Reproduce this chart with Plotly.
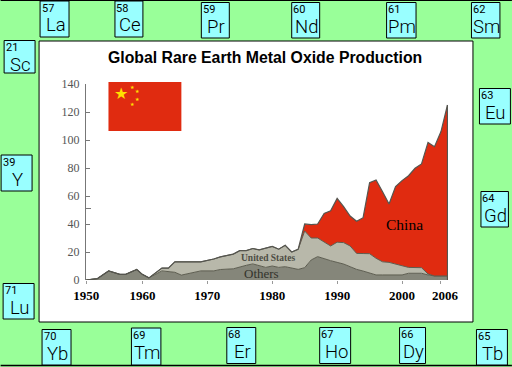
import plotly.graph_objects as go

W, H = 512, 367
# plot-area pixels
L, R, T, B = 85.5, 448.0, 84.0, 280.0

# Data: the source's first decade is drawn compressed, see axis_pos
years = [1950,1952,1954,1956,1957,1959,1960,1961,1963,1964,1965,1966,1969,1971,1972,1974,1975,1976,1977,1978,1979,1980,1981,1982,1983,1984,1985,1986,1987,1988,1989,1990,1991,1992,1993,1994,1995,1996,1997,1998,1999,2000,2001,2002,2003,2004,2005,2006,2007]
others = [0,1,6.5,4,4,7.5,4,1.5,6.5,6,5.5,3.5,6.5,6.5,7.5,8,9.5,10.5,11.5,10,9,10,9,9.5,8.8,7.6,8.8,14.3,16.7,15,13.8,12.6,11.4,9.5,7.6,6.4,5.2,3.6,3.6,3.6,3.6,3.6,4.8,4.8,4.8,3.6,2.9,2.9,2.9]
us_top = [0,1,6.5,4,4,7.5,4,1.5,8.5,8.5,13,13,13,15,16.5,18.5,21,21,22.5,21.5,22.5,24,22,24.8,20,22,35,30,30,27.4,24.3,27,26.7,24.3,19,18.9,18.8,15.5,13,12.6,11.2,10.2,9,8.8,8.8,4.3,2.9,2.9,2.9]
china_top = [0,1,6.5,4,4,7.5,4,1.5,8.5,8.5,13,13,13,15,16.5,18.5,21,21,22.5,21.5,22.5,24,22,24.8,20,22,40,39.5,40,47.6,49.5,58.3,52.4,45.7,42,44.5,69.5,71.4,63,54.3,66.7,71,74.5,79.8,82.9,98.3,95.2,106,125]
y_ticks = [0,20,40,60,80,100,120,140]
x_labels = ["1950","1960","1970","1980","1990","2000","2006"]

elements = [
 ("57","La",39.5,68.5,1,37),("58","Ce",114.5,142.5,1,37),("59","Pr",201,229,2.5,38),
 ("60","Nd",291.5,319.5,2.5,38),("61","Pm",386.5,416,2.5,38),("62","Sm",471.5,500,2.5,38),
 ("21","Sc",3.5,34.5,40.5,73),("39","Y",0.5,31.5,155,191),("71","Lu",2.5,33.5,283.5,319),
 ("63","Eu",479.5,510.5,88.5,124),("64","Gd",481,508.5,191.5,227),("65","Tb",476.5,507.5,329.5,365),
 ("66","Dy",399.5,425.5,327.5,363.5),("67","Ho",319.5,350.5,327.5,363.5),("68","Er",226.5,255.5,327.5,363.5),
 ("69","Tm",131,160.5,328,365),("70","Yb",41.5,70.5,329.5,365),
]

def axis_pos(y):
    return 1951.33 + (y-1950)*0.867 if y < 1960 else y

def px(x): return (x-L)/(R-L)
def py(y): return (B-y)/(B-T)

xs = [axis_pos(y) for y in years]
fig = go.Figure()
fig.add_trace(go.Scatter(x=xs, y=others, mode="lines", line=dict(color="#5d5d50", width=1), fill="tozeroy", fillcolor="#85867a", showlegend=False))
fig.add_trace(go.Scatter(x=xs, y=us_top, mode="lines", line=dict(color="#5d5d50", width=1), fill="tonexty", fillcolor="#b8b8aa", showlegend=False))
fig.add_trace(go.Scatter(x=xs, y=china_top, mode="lines", line=dict(color="#55554f", width=1.2), fill="tonexty", fillcolor="#e02b10", showlegend=False))
fig.add_trace(go.Scatter(x=[xs[-1], xs[-1]], y=[0, china_top[-1]], mode="lines", line=dict(color="#55554f", width=1.2), showlegend=False))

shapes = [
 dict(type="rect", xref="paper", yref="paper", x0=px(38.5), x1=px(473), y0=py(322), y1=py(41), fillcolor="white", line=dict(color="black", width=1), layer="below"),
 dict(type="line", xref="paper", yref="paper", x0=px(0), x1=px(512), y0=py(0.5), y1=py(0.5), line=dict(color="black", width=1)),
 dict(type="line", xref="paper", yref="paper", x0=px(0), x1=px(512), y0=py(365.5), y1=py(365.5), line=dict(color="black", width=1.5)),
 dict(type="rect", xref="paper", yref="paper", x0=px(108), x1=px(181), y0=py(131), y1=py(82), fillcolor="#e02b10", line=dict(width=0), layer="below"),
]
annos = []
def text(x, y, t, size, color="black", family="Liberation Sans", anchor="center", yanchor="middle", weight=None):
    f = dict(size=size, color=color, family=family)
    if weight: f["weight"] = weight
    annos.append(dict(xref="paper", yref="paper", x=px(x), y=py(y), text=t, showarrow=False, xanchor=anchor, yanchor=yanchor,
                      font=f, borderpad=0, borderwidth=0))

for num, sym, x0, x1, y0, y1 in elements:
    shapes.append(dict(type="rect", xref="paper", yref="paper", x0=px(x0), x1=px(x1), y0=py(y1), y1=py(y0), fillcolor="#99ffff", line=dict(color="black", width=1), layer="above"))
    text(x0+1.5, y0+7, num, 11, family="Roboto", anchor="left")
    text((x0+x1)/2+1, y0+24.5, sym, 18.5, family="Roboto", weight=300)

text(265, 58, "<b>Global Rare Earth Metal Oxide Production</b>", 15.8)
text(120.5, 94, "★", 16, "#ffe000")
text(132, 86.5, "★", 5, "#ffe000")
text(137.5, 91.5, "★", 5, "#ffe000")
text(137.5, 99, "★", 5, "#ffe000")
text(132, 104, "★", 5, "#ffe000")
text(404, 224, "China", 15.5, "black", "Liberation Serif")
text(268, 258, "<b>United States</b>", 9.5, "#4d4d44", "Liberation Serif")
text(261, 273, "Others", 13, "#33332c", "Liberation Serif")

fig.update_layout(
    width=W, height=H, autosize=False,
    margin=dict(l=L, r=W-R, t=T, b=H-B, pad=0),
    paper_bgcolor="#99ff99", plot_bgcolor="rgba(0,0,0,0)",
    shapes=shapes, annotations=annos, showlegend=False,
    xaxis=dict(range=[1951.31, 2007.08], tickmode="array",
               tickvals=[1951.33,1960,1970,1980,1990,2000,2006.6], ticktext=x_labels,
               ticks="", ticklabelstandoff=6, showgrid=False, zeroline=False, showline=False,
               tickfont=dict(family="Liberation Serif", size=13, color="black", weight="bold"),
               minor=dict(tickmode="array", tickvals=[1951.33,1960,1970,1980,1990,2000,2006], ticks="outside", ticklen=3, tickcolor="#999999", showgrid=False)),
    yaxis=dict(range=[0,140], tickmode="array", tickvals=y_ticks, ticks="inside", ticklen=4, tickcolor="#777777",
               showgrid=False, zeroline=False, showline=True, linecolor="#777777", linewidth=1,
               ticklabelstandoff=3,
               tickfont=dict(family="Liberation Serif", size=12, color="#555555"),
               minor=dict(tickmode="array", tickvals=[51], ticks="inside", ticklen=5, tickcolor="#777777", showgrid=False)),
)
fig.write_html("out.html", config={"displayModeBar": False}, post_script="document.body.style.margin='0';document.body.style.overflow='hidden';")
